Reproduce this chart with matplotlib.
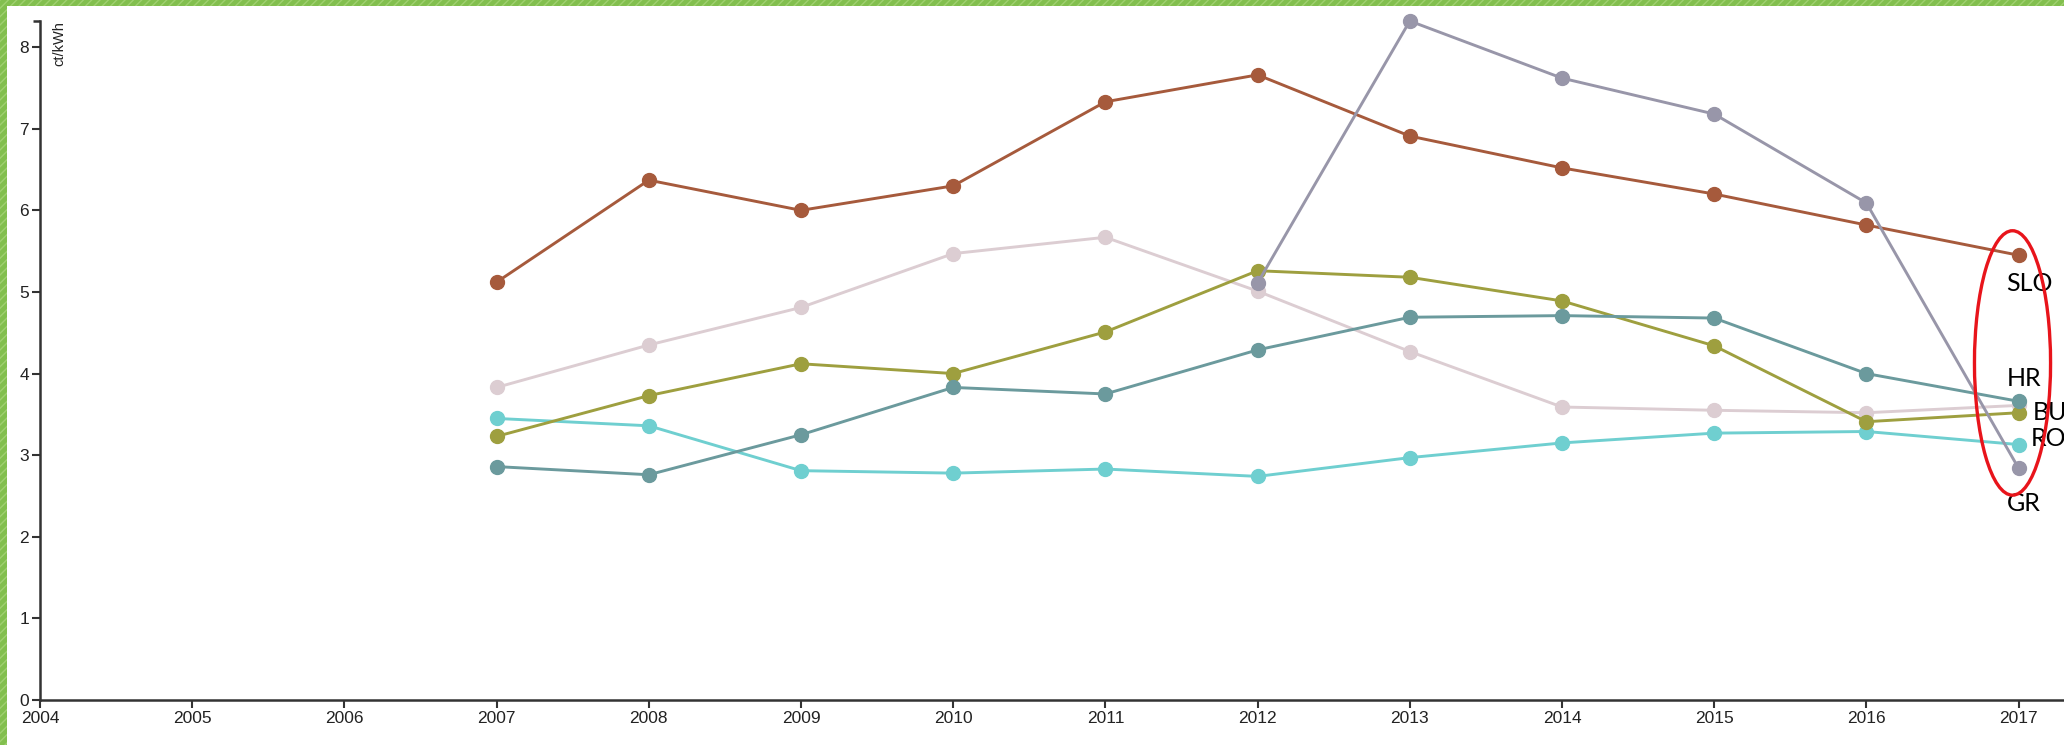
import matplotlib
matplotlib.use("Agg")
import matplotlib.pyplot as plt
from matplotlib.patches import Ellipse, Rectangle

plt.rcParams['font.family'] = ['Liberation Sans Narrow', 'Liberation Sans', 'DejaVu Sans']

years = [2007, 2008, 2009, 2010, 2011, 2012, 2013, 2014, 2015, 2016, 2017]
slo = [5.12, 6.37, 6.00, 6.30, 7.33, 7.66, 6.91, 6.52, 6.20, 5.82, 5.45]
pink = [3.83, 4.35, 4.81, 5.47, 5.67, 5.01, 4.27, 3.59, 3.55, 3.52, 3.61]
bu = [3.23, 3.73, 4.12, 4.00, 4.51, 5.26, 5.18, 4.89, 4.34, 3.41, 3.52]
ro = [3.45, 3.36, 2.81, 2.78, 2.83, 2.74, 2.97, 3.15, 3.27, 3.29, 3.13]
hr = [2.86, 2.76, 3.25, 3.83, 3.75, 4.29, 4.69, 4.71, 4.68, 4.00, 3.66]
gr_years = [2012, 2013, 2014, 2015, 2016, 2017]
gr = [5.11, 8.32, 7.62, 7.18, 6.09, 2.84]

x_ticks = list(range(2004, 2018))
y_ticks = list(range(0, 9))

labels = ["SLO", "HR", "BU", "RO", "GR"]
label_x = [2016.92, 2016.92, 2017.09, 2017.08, 2016.92]
label_y = [5.10, 3.94, 3.52, 3.20, 2.41]

W, H = 2064, 745
fig = plt.figure(figsize=(W / 100, H / 100), dpi=100)
fig.patch.set_facecolor('white')

ax_left, ax_right, ax_bottom, ax_top = 40, 2064, 700, 21
ax = fig.add_axes([ax_left / W, 1 - ax_bottom / H, (ax_right - ax_left) / W, (ax_bottom - ax_top) / H])
ax.set_facecolor('none')

series = [
    (years, ro, '#6fcfd0'),
    (years, pink, '#dccdd2'),
    (years, bu, '#9e9f3f'),
    (years, hr, '#6b9a9d'),
    (years, slo, '#a65a3c'),
    (gr_years, gr, '#9896a9'),
]
for xs, ys, c in series:
    ax.plot(xs, ys, color=c, lw=2.1, marker='o', ms=10, mfc=c, mec=c, zorder=3, clip_on=False)

ax.set_xlim(2004, 2004 + (ax_right - ax_left) / 152.2)
ax.set_ylim(0, max(gr))

for s in ['top', 'right']:
    ax.spines[s].set_visible(False)
for s in ['left', 'bottom']:
    ax.spines[s].set_color('#333333')
    ax.spines[s].set_linewidth(1.8)

ax.set_xticks(x_ticks)
ax.set_xticklabels([str(v) for v in x_ticks])
ax.set_yticks(y_ticks)
ax.set_yticklabels([str(v) for v in y_ticks])
ax.tick_params(axis='both', colors='#333333', labelcolor='#222222', labelsize=12.5,
               length=6, width=1.5, direction='out', pad=2)

# outer end tick at top of y axis (6 px)
ax.plot([-7 / (ax_right - ax_left), 0], [1, 1], transform=ax.transAxes, color='#333333', lw=1.8,
        clip_on=False, solid_capstyle='butt')

ax.text(2004.08, max(gr), 'ct/kWh', rotation=90, ha='left', va='top', fontsize=10.5, color='#222222')

for t, lx, ly in zip(labels, label_x, label_y):
    ax.text(lx, ly, t, fontsize=18, family=['Lato', 'DejaVu Sans'], ha='left', va='center', color='black',
            zorder=5, clip_on=False)

ell = Ellipse((2016.96, 4.13), 0.50, 3.24, fill=False, edgecolor='#e8141b', lw=2.4, zorder=6, clip_on=False)
ax.add_patch(ell)

# hatched green border (left and top)
fig.patches.append(Rectangle((0, 0), 7 / W, 1, transform=fig.transFigure, facecolor='#82bf4e',
                             edgecolor='#9fd070', hatch='////', lw=0, zorder=10))
fig.patches.append(Rectangle((0, 1 - 6 / H), 1, 6 / H, transform=fig.transFigure, facecolor='#82bf4e',
                             edgecolor='#9fd070', hatch='////', lw=0, zorder=10))

fig.savefig('out.png', dpi=100, facecolor='white')
